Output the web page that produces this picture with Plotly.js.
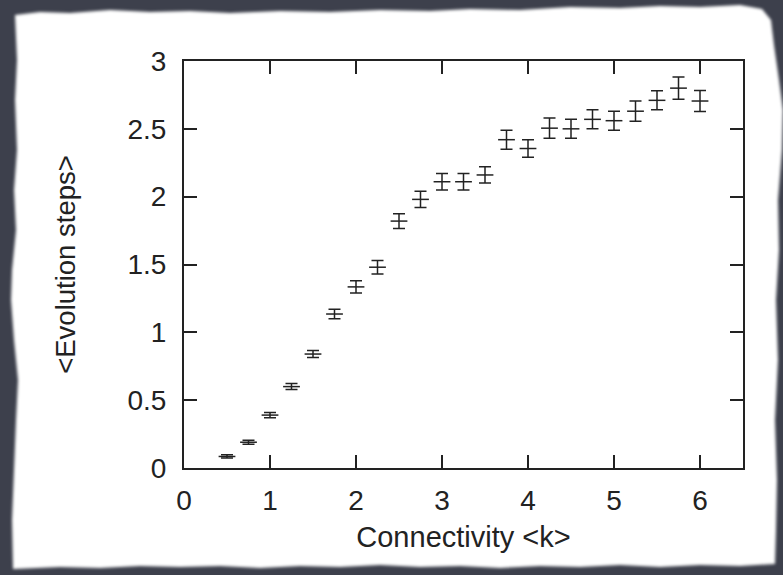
<!DOCTYPE html>
<html>
<head>
<meta charset="utf-8">
<script src="https://cdn.plot.ly/plotly-3.0.1.min.js"></script>
<style>
  html, body { margin: 0; padding: 0; width: 783px; height: 575px; overflow: hidden; background: #3d404c; }
  #soft { position: absolute; left: 0; top: 0; width: 783px; height: 575px; filter: blur(1.6px); }
  #paper {
    position: absolute; left: 0; top: 0; width: 783px; height: 575px;
    background: #ffffff;
    clip-path: polygon(15px 15px, 40px 12px, 70px 13px, 110px 10px, 150px 12px, 190px 11px, 230px 13px, 280px 11px, 330px 12px, 380px 10px, 430px 11px, 470px 9px, 520px 10px, 570px 7px, 620px 8px, 660px 6px, 700px 7px, 740px 5px, 762px 9px, 771px 20px, 774px 45px, 779px 80px, 783px 110px, 782px 150px, 778px 200px, 779px 250px, 776px 300px, 778px 360px, 775px 420px, 777px 480px, 776px 530px, 775px 564px, 740px 566px, 700px 565px, 660px 567px, 620px 565px, 580px 567px, 540px 566px, 500px 568px, 460px 566px, 420px 567px, 380px 565px, 340px 567px, 300px 566px, 260px 568px, 220px 566px, 180px 567px, 140px 566px, 100px 568px, 60px 567px, 13px 569px, 12px 520px, 14px 470px, 16px 420px, 18px 380px, 14px 340px, 11px 300px, 12px 270px, 16px 230px, 14px 190px, 17px 150px, 15px 100px, 17px 60px);
  }
  #plot { position: absolute; left: 0; top: 0; width: 783px; height: 575px; }
</style>
</head>
<body>
<div id="soft"><div id="paper"></div></div>
<div id="plot"></div>
<script>
// Connectivity <k>
const connectivity = [0.5, 0.75, 1.0, 1.25, 1.5, 1.75, 2.0, 2.25, 2.5, 2.75, 3.0, 3.25, 3.5, 3.75, 4.0, 4.25, 4.5, 4.75, 5.0, 5.25, 5.5, 5.75, 6.0];
// <Evolution steps>
const evolutionSteps = [0.085, 0.19, 0.39, 0.60, 0.84, 1.135, 1.335, 1.48, 1.82, 1.98, 2.11, 2.11, 2.16, 2.42, 2.355, 2.505, 2.50, 2.57, 2.56, 2.63, 2.71, 2.80, 2.705];
// error (half-width)
const stepErrors = [0.012, 0.015, 0.02, 0.022, 0.026, 0.035, 0.045, 0.05, 0.055, 0.06, 0.06, 0.06, 0.06, 0.07, 0.065, 0.075, 0.07, 0.07, 0.07, 0.075, 0.07, 0.082, 0.077];

const xTicks = [0, 1, 2, 3, 4, 5, 6];
const yTicks = [0, 0.5, 1, 1.5, 2, 2.5, 3];
const yTickLabels = ['0', '0.5', '1', '1.5', '2', '2.5', '3'];

const ink = '#222222';
const font = 'Liberation Sans, Arial, Helvetica, sans-serif';

const trace = {
  type: 'scatter',
  mode: 'markers',
  x: connectivity,
  y: evolutionSteps,
  marker: { symbol: 'line-ew', size: 12, color: ink, line: { width: 1.5, color: ink } },
  error_y: { type: 'data', array: stepErrors, visible: true, color: ink, thickness: 1.5, width: 6 },
  hoverinfo: 'x+y',
  showlegend: false
};

const axisCommon = {
  showgrid: false,
  zeroline: false,
  showline: true,
  linecolor: ink,
  linewidth: 2,
  mirror: 'ticks',
  ticks: 'inside',
  ticklen: 13,
  tickwidth: 2,
  tickcolor: ink,
  tickfont: { family: font, size: 28, color: ink },
  fixedrange: true
};

const layout = {
  width: 783,
  height: 575,
  margin: { l: 184, r: 40, t: 61, b: 107, pad: 0 },
  paper_bgcolor: 'rgba(0,0,0,0)',
  plot_bgcolor: 'rgba(0,0,0,0)',
  font: { family: font, color: ink },
  xaxis: Object.assign({}, axisCommon, {
    range: [0, 6.5],
    tickvals: xTicks,
    ticktext: xTicks.map(String),
    ticklabelstandoff: 6,
    title: { text: 'Connectivity &lt;k&gt;', font: { family: font, size: 29, color: ink }, standoff: 12 }
  }),
  yaxis: Object.assign({}, axisCommon, {
    range: [0, 3],
    tickvals: yTicks,
    ticktext: yTickLabels,
    ticklabelstandoff: 10,
    title: { text: '&lt;Evolution steps&gt;', font: { family: font, size: 27.5, color: ink }, standoff: 44 }
  })
};

Plotly.newPlot('plot', [trace], layout, { displayModeBar: false, staticPlot: true });
</script>
</body>
</html>
